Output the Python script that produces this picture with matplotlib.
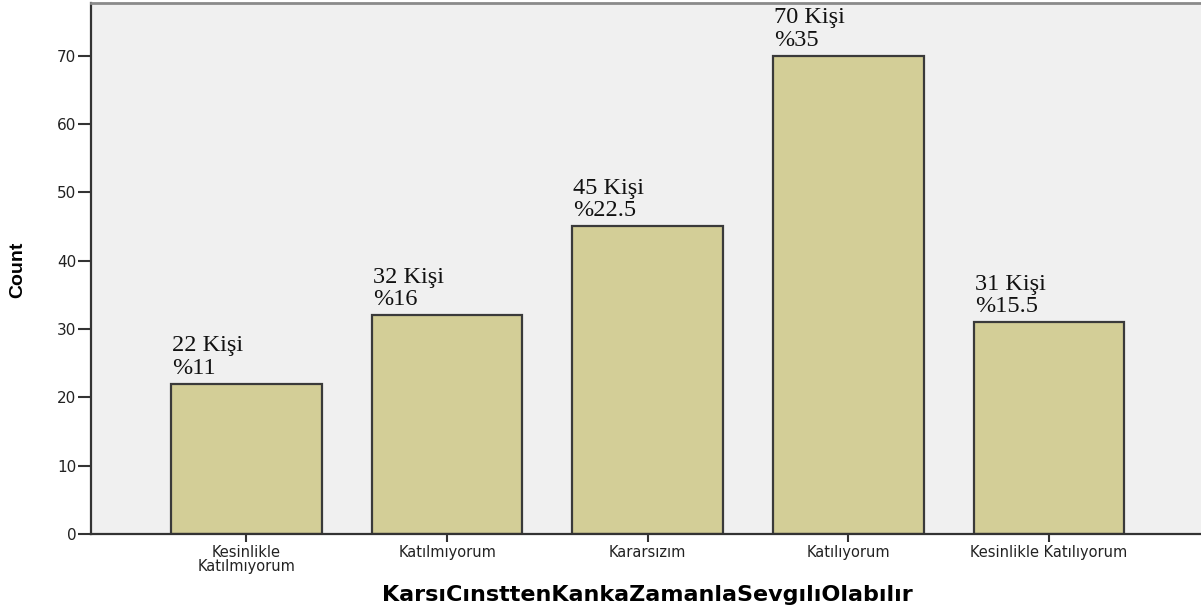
import numpy as np
import matplotlib.pyplot as plt

categories = ["Kesinlikle\nKatılmıyorum", "Katılmıyorum", "Kararsızım",
              "Katılıyorum", "Kesinlikle Katılıyorum"]
counts = [22, 32, 45, 70, 31]
percents = ["11", "16", "22.5", "35", "15.5"]
yticks = [0, 10, 20, 30, 40, 50, 60, 70]

fig = plt.figure(figsize=(12.01, 6.10), dpi=100)
ax = fig.add_axes([91 / 1201, 76 / 610, 1.0 - 91 / 1201 + 0.002, 531 / 610])
ax.set_facecolor("#f0f0f0")

ind = np.arange(len(categories))
width = 0.75
ax.bar(ind, counts, width, color="#d3ce97", edgecolor="#3a3a3a", linewidth=1.6, zorder=2)

for i, (c, p) in enumerate(zip(counts, percents)):
    ax.annotate("%d Kişi\n%%%s" % (c, p), xy=(i - width / 2, c),
                xytext=(1, 5), textcoords="offset pixels",
                ha="left", va="bottom", fontsize=17.5, linespacing=1.1,
                family="Liberation Serif", color="#111111")

ax.set_xlim(-0.775, 4.77)
ax.set_ylim(0, 77.7)
ax.set_yticks(yticks)
ax.set_yticklabels([str(t) for t in yticks], family="DejaVu Sans",
                   fontsize=11, color="#222222")
ax.set_xticks(ind)
ax.set_xticklabels(categories, family="DejaVu Sans", fontsize=10.5,
                   linespacing=0.9, color="#222222")
ax.tick_params(axis="y", length=9.5, width=1.5, color="#333333", pad=1)
ax.tick_params(axis="x", length=6, width=1.5, color="#333333", pad=2)

for s in ["left", "bottom"]:
    ax.spines[s].set_color("#333333")
    ax.spines[s].set_linewidth(1.6)
ax.spines["top"].set_color("#8a8a8a")
ax.spines["top"].set_linewidth(2)
ax.spines["right"].set_visible(False)

ax.set_xlabel("KarsıCınsttenKankaZamanlaSevgılıOlabılır", family="DejaVu Sans",
              fontsize=16, fontweight="bold", labelpad=8)
fig.text(18 / 1201, 1 - 270 / 610, "Count", rotation=90, ha="center", va="center",
         family=["Liberation Sans Narrow", "Liberation Sans"], fontsize=14,
         fontweight="bold")

fig.savefig("out.png", dpi=100)
